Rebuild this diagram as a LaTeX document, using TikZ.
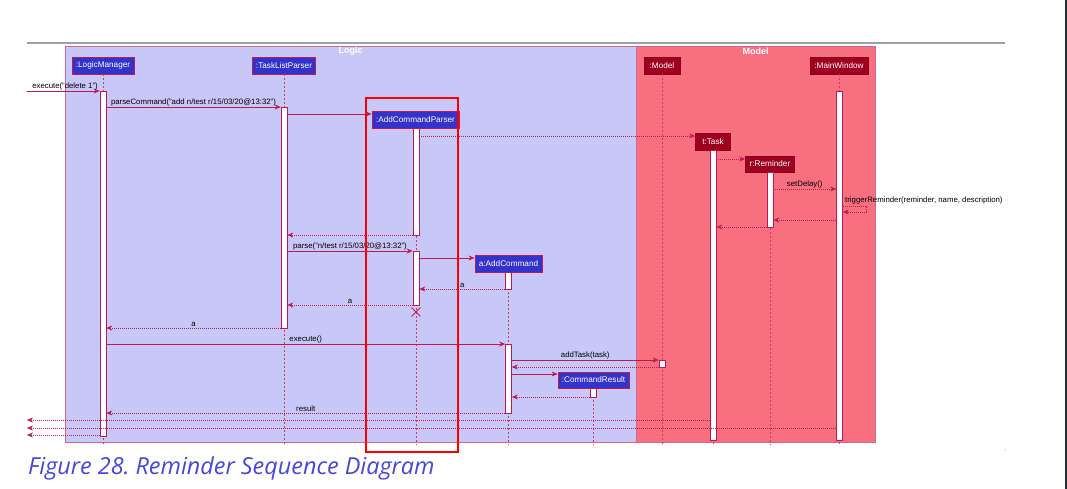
\documentclass[tikz,border=0pt]{standalone}
\usepackage{fontspec}
\setmainfont{Liberation Sans}
\newfontfamily\capfont{Open Sans}
\usetikzlibrary{arrows.meta,shapes.misc}
\definecolor{logicbg}{RGB}{200,200,248}
\definecolor{modelbg}{RGB}{248,112,128}
\definecolor{framebd}{RGB}{214,100,140}
\definecolor{msgc}{RGB}{190,25,80}
\definecolor{lifec}{RGB}{200,60,110}
\definecolor{pblue}{RGB}{51,51,204}
\definecolor{pred}{RGB}{160,0,32}
\definecolor{capc}{RGB}{70,70,220}
\definecolor{grayl}{RGB}{160,160,160}
\definecolor{darkbar}{RGB}{35,45,55}
\frenchspacing
\begin{document}
\begin{tikzpicture}[x=1pt,y=-1pt,
 part/.style={draw=msgc, line width=0.8pt, text=white, font=\fontsize{8.2}{9}\selectfont, inner sep=0pt, minimum height=17pt},
 lpart/.style={part, fill=pblue},
 mpart/.style={part, fill=pred, draw=pred!85!black},
 act/.style={draw=msgc, fill=white, line width=0.6pt, minimum width=6pt, inner sep=0pt, anchor=north},
 life/.style={draw=lifec, line width=0.6pt, dash pattern=on 2pt off 2pt},
 msg/.style={draw=msgc, line width=0.6pt, -{Stealth[length=6pt,width=5pt]}},
 ret/.style={msg, dash pattern=on 1pt off 1pt},
 lbl/.style={font=\fontsize{7.8}{8}\selectfont, text=black, inner sep=1pt, above, midway},
 framebox/.style={draw=framebd, line width=0.8pt, anchor=north west, inner sep=0pt},
 framelbl/.style={font=\bfseries\fontsize{9}{10}\selectfont, text=white},
]
\useasboundingbox (0,0) rectangle (1067,489);
\fill[white] (0,0) rectangle (1067,489);
\draw[grayl, line width=1.5pt] (27,43) -- (1005,43);
\fill[darkbar] (1065,0) rectangle (1067,489);
\fill[grayl] (1005,450) circle (0.6);

% frames
\node[framebox, fill=logicbg, minimum width=571pt, minimum height=396pt] (logic) at (65,46) {};
\node[framebox, fill=modelbg, minimum width=239pt, minimum height=396pt] (model) at (636,46) {};
\node[framelbl] (logicL) at (350.5,51) {Logic};
\node[framelbl] (modelL) at (755.5,51) {Model};

% participants
\node[lpart, minimum width=62pt] (lm) at (103,65.5) {:LogicManager};
\node[lpart, minimum width=63pt] (tlp) at (284,65.5) {:TaskListParser};
\node[lpart, minimum width=87pt] (acp) at (415.5,119.5) {:AddCommandParser};
\node[mpart, minimum width=36pt] (mo) at (662,65.5) {:Model};
\node[mpart, minimum width=58pt] (mw) at (839,65.5) {:MainWindow};
\node[mpart, minimum width=35pt] (task) at (713,141.5) {t:Task};
\node[mpart, minimum width=49pt, minimum height=16pt] (rem) at (770,164) {r:Reminder};
\node[lpart, minimum width=67pt] (ac) at (508.5,263.5) {a:AddCommand};
\node[lpart, minimum width=71pt, minimum height=16pt] (cr) at (593.5,380) {:CommandResult};

% lifelines
\draw[life] (lm.south) -- (lm.south |- 0,445);
\draw[life] (tlp.south) -- (tlp.south |- 0,445);
\draw[life] ([xshift=0.5pt]acp.south) -- ([xshift=0.5pt]acp.south |- 0,445);
\draw[life] (mo.south) -- (mo.south |- 0,445);
\draw[life] (mw.south) -- (mw.south |- 0,445);
\draw[life] (task.south) -- (task.south |- 0,445);
\draw[life] (rem.south) -- (rem.south |- 0,445);
\draw[life] (ac.south) -- (ac.south |- 0,445);
\draw[life] (cr.south) -- (cr.south |- 0,445);

% activations
\node[act, minimum height=345pt] (aLM) at (103,91) {};
\node[act, minimum height=221pt] (aTLP) at (284,107) {};
\node[act, minimum height=107pt] (aACP1) at (416,128) {};
\node[act, minimum height=54pt] (aACP2) at (416,251) {};
\node[act, minimum height=17pt] (aAC1) at (508.5,272) {};
\node[act, minimum height=69pt] (aAC2) at (508.5,344) {};
\node[act, minimum height=7pt] (aM) at (662,360) {};
\node[act, minimum height=9pt] (aCR) at (593.5,388) {};
\node[act, minimum height=290pt] (aT) at (713,150) {};
\node[act, minimum height=55pt] (aR) at (770,172) {};
\node[act, minimum height=349pt] (aMW) at (839.5,91) {};

\node[cross out, draw=msgc, line width=0.8pt, minimum size=8pt, inner sep=0pt] (destroy) at (416,312) {};

% messages
\coordinate (ext1) at (27,91);
\coordinate (ext2) at (27,420);
\coordinate (ext3) at (27,428);
\coordinate (ext4) at (27,435);
\draw[msg] (ext1) -- (aLM.west |- ext1) node[lbl, pos=0, anchor=south west, xshift=4pt] {execute("delete 1")};
\draw[msg] (aLM.east |- 0,107) -- (aTLP.west |- 0,107) node[lbl] {parseCommand("add n/test r/15/03/20@13:32")};
\draw[msg] (aTLP.east |- 0,114) -- (acp.west |- 0,114);
\draw[ret] (aACP1.east |- 0,136) -- (task.west |- 0,136);
\draw[ret] (aT.east |- 0,159) -- (rem.west |- 0,159);
\draw[ret] (aR.east |- 0,189) -- (aMW.west |- 0,189) node[lbl] {setDelay()};
\draw[ret] (aMW.east |- 0,206) -- ++(23,0) -- ++(0,6) -- (aMW.east |- 0,212);
\node[font=\fontsize{7.8}{8}\selectfont, anchor=west, inner sep=0pt] (trigL) at (845,200) {triggerReminder(reminder, name, description)};
\draw[ret] (aMW.west |- 0,220) -- (aR.east |- 0,220);
\draw[ret] (aR.west |- 0,227) -- (aT.east |- 0,227);
\draw[ret] (aACP1.west |- 0,235) -- (aTLP.east |- 0,235);
\draw[msg] (aTLP.east |- 0,251) -- (aACP2.west |- 0,251) node[lbl] {parse("n/test r/15/03/20@13:32")};
\draw[msg] (aACP2.east |- 0,258) -- (ac.west |- 0,258);
\draw[ret] (aAC1.west |- 0,289) -- (aACP2.east |- 0,289) node[lbl] {a};
\draw[ret] (aACP2.west |- 0,305) -- (aTLP.east |- 0,305) node[lbl] {a};
\draw[ret] (aTLP.west |- 0,328) -- (aLM.east |- 0,328) node[lbl] {a};
\draw[msg] (aLM.east |- 0,344) -- (aAC2.west |- 0,344) node[lbl] {execute()};
\draw[msg] (aAC2.east |- 0,360) -- (aM.west |- 0,360) node[lbl] {addTask(task)};
\draw[ret] (aM.west |- 0,367) -- (aAC2.east |- 0,367);
\draw[msg] (aAC2.east |- 0,374) -- (cr.west |- 0,374);
\draw[ret] (aCR.west |- 0,397) -- (aAC2.east |- 0,397);
\draw[ret] (aAC2.west |- 0,413) -- (aLM.east |- 0,413) node[lbl] {result};
\draw[ret] (aT.west |- ext2) -- (ext2);
\draw[ret] (aMW.west |- ext3) -- (ext3);
\draw[ret] (aLM.west |- ext4) -- (ext4);

% highlight
\node[draw=red, line width=2pt, minimum width=92pt, minimum height=354pt, anchor=north west, inner sep=0pt] (redbox) at (365,97) {};

% caption
\node[anchor=base west, text=capc, font=\capfont\itshape\fontsize{23.4}{26}\selectfont, inner sep=0pt] (cap) at (28,474) {Figure 28. Reminder Sequence Diagram};
\end{tikzpicture}
\end{document}
